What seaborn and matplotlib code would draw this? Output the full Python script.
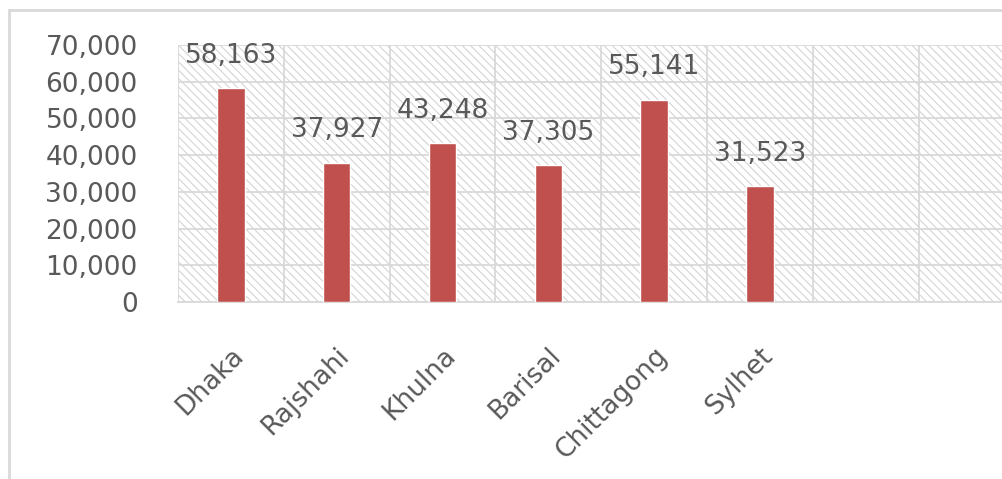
import numpy as np
import pandas as pd
import matplotlib
matplotlib.use("Agg")
import matplotlib.pyplot as plt
import matplotlib.transforms as mtransforms
from matplotlib.patches import Rectangle
import seaborn as sns

# ---- data ----
divisions = ["Dhaka", "Rajshahi", "Khulna", "Barisal", "Chittagong", "Sylhet"]
values = [58163, 37927, 43248, 37305, 55141, 31523]
y_ticks = [0, 10000, 20000, 30000, 40000, 50000, 60000, 70000]
n_slots = 8  # the category axis has room for 8 slots (two empty, cropped)

sns.set_theme(style="white")
plt.rcParams["font.family"] = ["DejaVu Sans"]
plt.rcParams["hatch.linewidth"] = 0.7

TEXT = "#595959"
GRID = "#D9D9D9"
BAR = "#C0504D"

W, H = 1003, 479
fig = plt.figure(figsize=(W / 100, H / 100), dpi=100)

# outer chart frame (cropped on right/bottom)
fig.patches.append(Rectangle((9 / W, -0.05), 1.2, 1 - 10 / H + 0.05,
                             transform=fig.transFigure, fill=False,
                             edgecolor=GRID, linewidth=2, zorder=0))

left, slot = 178, 105.8
bottom_px, top_px = 302, 45
# axes end at the picture's right edge; the last slot is cropped
ax = fig.add_axes([left / W, (H - bottom_px) / H,
                   1 - left / W, (bottom_px - top_px) / H])

df = pd.DataFrame({"division": divisions, "value": values})
sns.barplot(data=df, x="division", y="value", color=BAR, saturation=1,
            width=0.26, ax=ax, zorder=3)

ax.set_xlim(-0.5, -0.5 + (W - left) / slot)
ax.set_ylim(0, 70000)
ax.set_yticks(y_ticks)
ax.set_yticklabels([f"{t:,}" for t in y_ticks])
ax.set_xlabel("")
ax.set_ylabel("")

# hatched plot-area background
ax.add_patch(Rectangle((0, 0), 1, 1, transform=ax.transAxes, facecolor="white",
                       edgecolor="#CFCFCF", hatch="\\\\\\\\", linewidth=0,
                       zorder=0.1))

# category boundaries that fall inside the visible picture
ax.set_xticks(np.arange(-0.5, n_slots - 1, 1), minor=True)
ax.grid(True, axis="y", which="major", color=GRID, linewidth=1.3, zorder=0.5)
ax.grid(True, axis="x", which="minor", color=GRID, linewidth=1.3, zorder=0.5)
ax.grid(False, axis="x", which="major")
ax.set_axisbelow(True)

for s in ["top", "right", "left"]:
    ax.spines[s].set_visible(False)
ax.spines["bottom"].set_color(GRID)
ax.spines["bottom"].set_linewidth(1.3)

ax.tick_params(axis="both", which="both", length=0)
ax.tick_params(axis="y", labelsize=19, labelcolor=TEXT, pad=29)
ax.tick_params(axis="x", labelsize=19, labelcolor=TEXT, pad=36)

for lbl in ax.get_xticklabels():
    lbl.set_rotation(45)
    lbl.set_rotation_mode("anchor")
    lbl.set_ha("right")
    lbl.set_va("center")
    lbl.set_transform(lbl.get_transform() +
                      mtransforms.ScaledTranslation(9 / 100, 0, fig.dpi_scale_trans))

ax.bar_label(ax.containers[0], labels=[f"{v:,}" for v in values],
             padding=14, fontsize=19, color=TEXT)

fig.savefig("out.png", dpi=100)
